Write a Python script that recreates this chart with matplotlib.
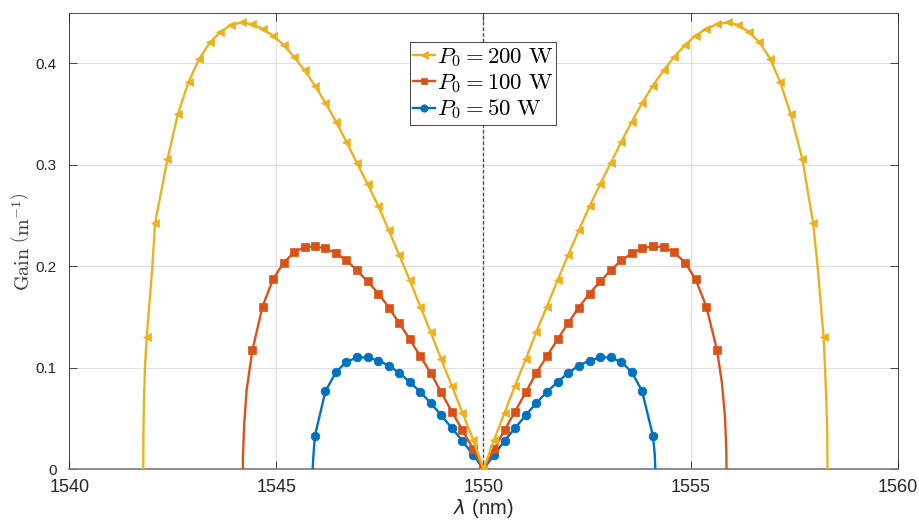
import numpy as np
import matplotlib
matplotlib.use("Agg")
import matplotlib.pyplot as plt
from matplotlib.lines import Line2D

# marker wavelengths (nm), index 1.. outward from the 1550 nm pump
lam_right = [1550.26, 1550.51, 1550.76, 1551.02, 1551.27, 1551.53, 1551.79, 1552.04,
             1552.30, 1552.56, 1552.82, 1553.07, 1553.33, 1553.58, 1553.83, 1554.09,
             1554.35, 1554.60, 1554.87, 1555.12, 1555.38, 1555.64, 1555.90, 1556.15,
             1556.41, 1556.66, 1556.92, 1557.16, 1557.42, 1557.70, 1557.96, 1558.21]
lam_left = [1549.75, 1549.49, 1549.235, 1548.98, 1548.73, 1548.475, 1548.22, 1547.97,
            1547.715, 1547.465, 1547.20, 1546.945, 1546.69, 1546.44, 1546.185, 1545.93,
            1545.68, 1545.43, 1545.175, 1544.92, 1544.665, 1544.42, 1544.16, 1543.90,
            1543.65, 1543.40, 1543.14, 1542.88, 1542.62, 1542.37, 1542.07, 1541.87]
lam_pump = 1550.0

# gain at the markers (same on both sides), m^-1
gain_200 = [0.029, 0.0556, 0.082, 0.108, 0.1345, 0.160, 0.186, 0.2104, 0.235, 0.2588,
            0.2808, 0.3015, 0.3225, 0.3422, 0.3606, 0.3778, 0.3928, 0.4059, 0.4177, 0.4271,
            0.4337, 0.4382, 0.4400, 0.4375, 0.4305, 0.4205, 0.4044, 0.3816, 0.3494, 0.3051,
            0.2420, 0.1304]
gain_100 = [0.0195, 0.0384, 0.0565, 0.0755, 0.0943, 0.1110, 0.1278, 0.1435, 0.1591, 0.1729,
            0.1848, 0.1956, 0.2056, 0.2125, 0.2174, 0.2194, 0.2186, 0.2135, 0.2033, 0.1869,
            0.1601, 0.1168]
gain_50 = [0.0138, 0.0279, 0.0403, 0.0529, 0.0649, 0.0759, 0.0857, 0.0946, 0.1018, 0.1069,
           0.1100, 0.1099, 0.1054, 0.0956, 0.0767, 0.0328]

# extra line points read near the band edges (no markers there)
edge_200_x = [1541.785, 1541.79, 1541.803, 1541.828, 1542.005, 1558.068, 1558.245, 1558.277, 1558.30, 1558.305]
edge_200_y = [0.0, 0.035, 0.068, 0.1008, 0.1993, 0.1993, 0.1008, 0.068, 0.035, 0.0]
edge_100_x = [1544.19, 1544.192, 1544.224, 1544.282, 1555.758, 1555.83, 1555.863, 1555.868]
edge_100_y = [0.0, 0.0121, 0.045, 0.0778, 0.0844, 0.0516, 0.0187, 0.0]
edge_50_x = [1545.874, 1545.892, 1554.133, 1554.149]
edge_50_y = [0.0, 0.0121, 0.0154, 0.0]

labels = [r'$P_0 = 200\ \mathrm{W}$', r'$P_0 = 100\ \mathrm{W}$', r'$P_0 = 50\ \mathrm{W}$']
colors = ['#EDB120', '#D95319', '#0072BD']
markers = ['<', 's', 'o']
msizes = [6.3, 5.2, 6.3]


def marker_points(gain):
    n = len(gain)
    x = list(lam_left[:n][::-1]) + [lam_pump] + list(lam_right[:n])
    y = list(gain[::-1]) + [0.0] + list(gain)
    return np.array(x), np.array(y)


def line_points(gain, ex, ey):
    mx, my = marker_points(gain)
    x = np.concatenate([mx, ex])
    y = np.concatenate([my, ey])
    order = np.argsort(x, kind="stable")
    return x[order], y[order]


plt.rcParams['font.family'] = ['Liberation Sans', 'DejaVu Sans']
txt = '#262626'

fig = plt.figure(figsize=(9.19, 5.21), dpi=100)
ax = fig.add_axes([0.0754, 0.0998, 0.9014, 0.8747])

ax.axvline(lam_pump, color='#505050', ls=(0, (2.5, 1.6)), lw=1.0, zorder=1.5)

series = [(gain_50, edge_50_x, edge_50_y, 2),
          (gain_100, edge_100_x, edge_100_y, 1),
          (gain_200, edge_200_x, edge_200_y, 0)]
for gain, ex, ey, k in series:
    lx, ly = line_points(gain, ex, ey)
    ax.plot(lx, ly, color=colors[k], lw=1.7, zorder=3 + (2 - k))
    mx, my = marker_points(gain)
    ax.plot(mx, my, ls='none', marker=markers[k], ms=msizes[k], color=colors[k],
            markeredgewidth=0.5, zorder=3 + (2 - k))

ax.set_xlim(1540, 1560)
ax.set_ylim(0, 0.449)
ax.set_xticks([1540, 1545, 1550, 1555, 1560])
ax.set_yticks([0, 0.1, 0.2, 0.3, 0.4])
ax.set_yticklabels(['0', '0.1', '0.2', '0.3', '0.4'])
ax.grid(True, color='#e0e0e0', lw=0.8, zorder=0)
ax.set_axisbelow(True)
ax.tick_params(direction='in', length=5.8, width=0.6, color=txt, labelcolor=txt,
               top=True, right=True)
ax.tick_params(axis='x', labelsize=13, pad=7)
ax.tick_params(axis='y', labelsize=11, pad=9)
for s in ['left', 'top', 'right']:
    ax.spines[s].set_color(txt)
    ax.spines[s].set_linewidth(0.6)
ax.spines['bottom'].set_color('#7a7a7a')
ax.spines['bottom'].set_linewidth(1.2)

ax.set_xlabel(r'$\lambda$ (nm)', fontsize=14.5, color=txt, math_fontfamily='dejavusans', labelpad=1)
ax.set_ylabel(r'$\mathrm{Gain}\ \left(\mathrm{m}^{-1}\right)$', fontsize=14.5, color='#3a3a3a',
              math_fontfamily='cm', labelpad=2)

handles = [Line2D([], [], color=colors[k], lw=1.7, marker=markers[k], ms=msizes[k] - 1,
                  markeredgewidth=0.5, label=labels[k]) for k in range(3)]
leg = ax.legend(handles=handles, loc='upper left', bbox_to_anchor=(0.411, 0.937),
                borderaxespad=0, fontsize=16.5, frameon=True, fancybox=False,
                edgecolor=txt, framealpha=1, handlelength=0.95, handletextpad=0.1,
                borderpad=0.14, labelspacing=0.1)
leg.get_frame().set_linewidth(0.6)
for t in leg.get_texts():
    t.set_math_fontfamily('cm')
    t.set_color('black')

fig.savefig('out.png', dpi=100)
